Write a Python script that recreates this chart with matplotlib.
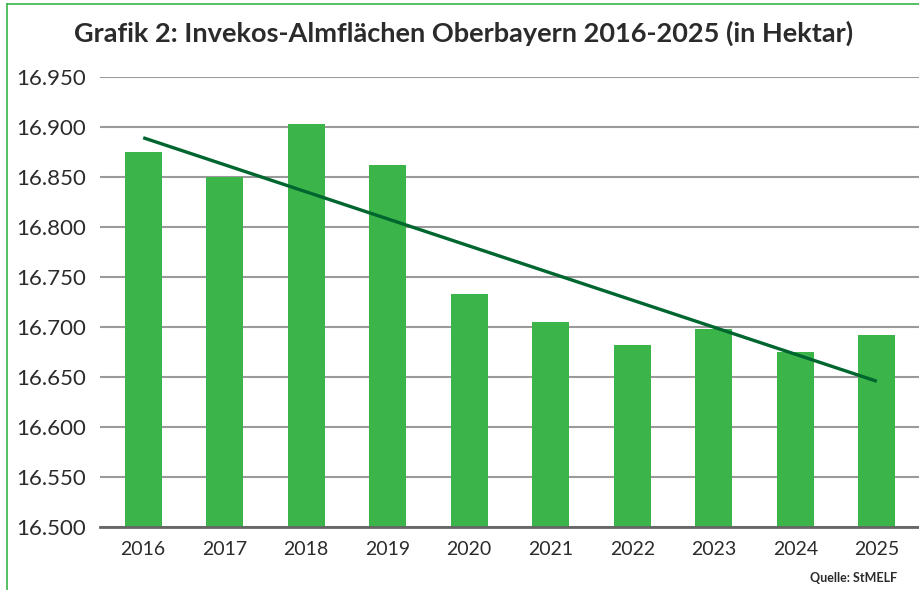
import numpy as np
import matplotlib
matplotlib.use("Agg")
import matplotlib.pyplot as plt
from matplotlib.lines import Line2D

# Invekos-Almflächen Oberbayern (Hektar)
years = ["2016", "2017", "2018", "2019", "2020", "2021", "2022", "2023", "2024", "2025"]
hectares = [16875, 16850, 16903, 16862, 16733, 16705, 16682, 16698, 16675, 16692]
y_ticks = [16500, 16550, 16600, 16650, 16700, 16750, 16800, 16850, 16900, 16950]

BAR_GREEN = "#3bb54a"
TREND_GREEN = "#00662f"
TEXT = "#2b2b2b"

plt.rcParams["font.family"] = ["Lato", "DejaVu Sans"]

fig = plt.figure(figsize=(9.2, 5.9), dpi=100)
ax = fig.add_axes([100 / 920, 1 - 527 / 590, 820 / 920, 450 / 590])

x = np.arange(len(years))
ax.bar(x, hectares, width=0.45, color=BAR_GREEN, zorder=2)

# linear trend line
slope, icpt = np.polyfit(x, hectares, 1)
ax.plot([x[0], x[-1]], [icpt, icpt + slope * x[-1]], color=TREND_GREEN, lw=2.4,
        zorder=3, solid_capstyle="butt")

ax.set_ylim(y_ticks[0], y_ticks[-1])
ax.set_xlim(-0.53, len(years) - 0.47)
ax.set_yticks(y_ticks)
ax.set_yticklabels([f"{v / 1000:.3f}" for v in y_ticks])
ax.set_xticks(x)
ax.set_xticklabels(years)
ax.tick_params(axis="y", length=0, pad=10, labelsize=16, labelcolor=TEXT)
ax.tick_params(axis="x", length=0, pad=10, labelsize=14, labelcolor=TEXT)
ax.grid(axis="y", color="#9a9a9a", lw=1.5, zorder=1)
ax.set_axisbelow(True)
for side in ["top", "right", "left"]:
    ax.spines[side].set_visible(False)
ax.spines["bottom"].set_color("#666666")
ax.spines["bottom"].set_linewidth(2)
ax.spines["bottom"].set_zorder(4)

fig.text(464 / 920, 1 - 33 / 590, "Grafik 2: Invekos-Almflächen Oberbayern 2016-2025 (in Hektar)",
         ha="center", va="center", fontsize=19.5, fontweight="bold", color=TEXT)
fig.text(897 / 920, 1 - 578 / 590, "Quelle: StMELF", ha="right", va="center",
         fontsize=9, fontweight="bold", color=TEXT)

# green frame on top and left
fig.add_artist(Line2D([7 / 920, 1], [1 - 4 / 590, 1 - 4 / 590], color=BAR_GREEN, lw=1.2,
                      transform=fig.transFigure))
fig.add_artist(Line2D([7 / 920, 7 / 920], [0, 1 - 4 / 590], color=BAR_GREEN, lw=1.2,
                      transform=fig.transFigure))

fig.savefig("out.png", dpi=100)
